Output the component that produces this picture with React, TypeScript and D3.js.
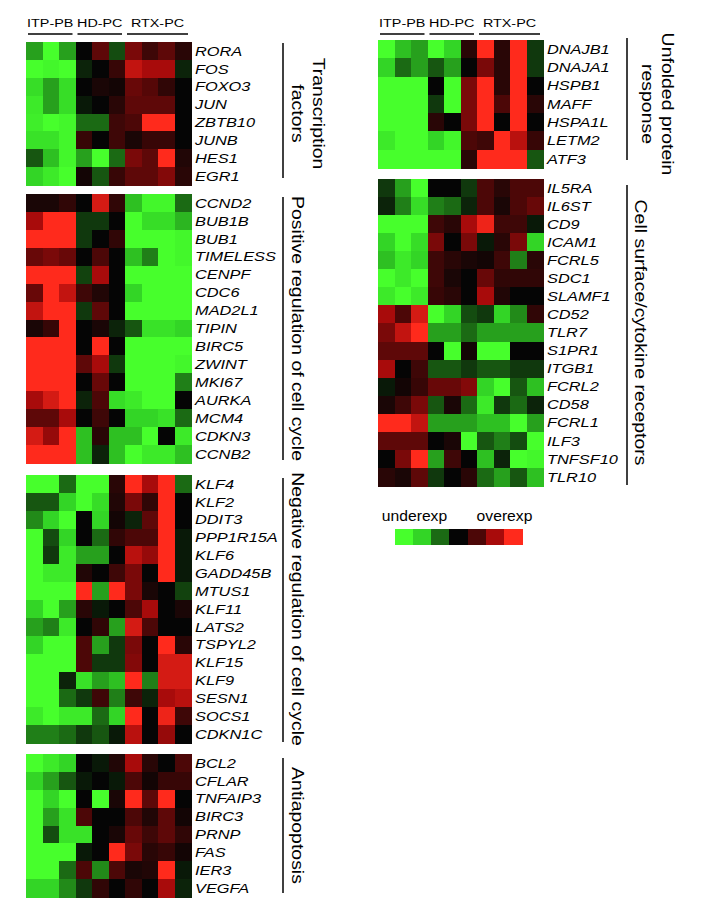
import * as d3 from 'd3';

// sample groups (columns)
const groups = ['ITP-PB', 'HD-PC', 'RTX-PC'];
const groupSizes = [3, 3, 4];
const samples = groups.flatMap((g, gi) => d3.range(groupSizes[gi]).map(i => `${g} ${i + 1}`));

// legend
const legendLevels = [-3, -2, -1, 0, 1, 2, 3];
const legendLabels = ['underexp', 'overexp'];

// --- Transcription factors
const tfGenes = ['RORA', 'FOS', 'FOXO3', 'JUN', 'ZBTB10', 'JUNB', 'HES1', 'EGR1'];
const tfValues = [
  [-1.5, -3, -1.5, 0, 1.2, -0.7, 1.5, 0.8, 1.2, 0.5],
  [-3, -2.8, -3, -0.3, 0, 0.7, 2.3, 2, 2, -0.3],
  [-2.2, -1.5, -2.2, 0, 0.3, 0.2, 1.3, 1.1, 0.6, 0],
  [-2.5, -1.5, -2.2, -0.2, 0, 0.5, 1.2, 1.2, 1.2, 0],
  [-2.6, -3, -2.8, -1, -1, 0.8, 1, 3, 3, 0],
  [-2.3, -2.3, -2.8, 0.7, 0, 0.8, 0.3, 0.7, 0.7, 0],
  [-0.8, -1.8, -2.8, -1.5, -3, -1, 1.5, 1.2, 3, 0.4],
  [-2, -2.5, -3, 0.2, -0.8, 0.7, 1.2, 1.2, 1.6, 0.5],
];

// --- Positive regulation of cell cycle
const posGenes = ['CCND2', 'BUB1B', 'BUB1', 'TIMELESS', 'CENPF', 'CDC6', 'MAD2L1', 'TIPIN',
  'BIRC5', 'ZWINT', 'MKI67', 'AURKA', 'MCM4', 'CDKN3', 'CCNB2'];
const posValues = [
  [0.3, 0.3, 0.6, 0, 2.5, 0.6, -1.8, -2.8, -2.8, -1],
  [2, 3, 3, -0.5, -0.5, 0, -3, -2.2, -2.2, -1.7],
  [3, 3, 3, -0.5, 0, 0.6, -3, -3, -3, -2.8],
  [1.3, 1.5, 1.3, 0, 1, 0, -1.8, -1.2, -3, -2.8],
  [3, 3, 3, -0.6, 2, 0, -3, -3, -3, -3],
  [1.3, 3, 2.3, 0.8, 0.4, 0, -2, -3, -3, -3],
  [2.3, 3, 3, -0.5, 1.2, 0, -3, -3, -3, -3],
  [0.3, 0.7, 3, 0, 0.3, -0.3, -0.8, -2.3, -2.3, -2],
  [3, 3, 3, 0, 3, 0, -3, -3, -3, -3],
  [3, 3, 3, 1.2, 2, -0.5, -3, -3, -3, -2.8],
  [3, 3, 3, 0, 1.3, 0, -3, -3, -3, -1.2],
  [2, 2.5, 3, -0.3, 1, -2.2, -2.5, -3, -3, 0],
  [1.2, 1.2, 2, 0, 0.8, 0, -2, -2, -2.3, -1],
  [2.5, 1.8, 3, -1.8, 0.5, -1.8, -1.8, -3, 0, -2.5],
  [3, 3, 3, -1.8, -0.3, -1.8, -3, -2.5, -2.5, -1.8],
];

// --- Negative regulation of cell cycle
const negGenes = ['KLF4', 'KLF2', 'DDIT3', 'PPP1R15A', 'KLF6', 'GADD45B', 'MTUS1', 'KLF11',
  'LATS2', 'TSPYL2', 'KLF15', 'KLF9', 'SESN1', 'SOCS1', 'CDKN1C'];
const negValues = [
  [-3, -3, -1, -3, -3, 0.5, 3, 2, 3, -1],
  [-0.8, -0.8, -2, -3, -2.2, 0.4, 1.5, 0.6, 3, 0],
  [-1.3, -2, -3, 0, -2, 0.2, -0.3, 1.2, 3, 0],
  [-3, -0.7, -2, 0, -1, 0.6, 1, 1, 3, -0.2],
  [-3, -0.5, -2.5, -1.5, -1.5, 0, 2.2, 1.8, 3, -0.2],
  [-3, -2.5, -2.5, 0.4, 0, 0.8, 1.5, 0, 3, -0.2],
  [-3, -3, -3, 3, -1.5, 3, 1.5, 0.3, 0, -0.6],
  [-2, -3, -1.5, 0.5, -0.2, 0, 1, 2, 0, 0.3],
  [-1.5, -1.2, -2.5, 0, 0.6, -1.5, 2.5, 1, 0, 0],
  [-2, -3, -3, 1, -1.5, -0.5, 1.5, 0, 3, 0.5],
  [-3, -3, -3, 1, -0.5, -0.5, 1.6, 0, 2.5, 2.5],
  [-3, -3, -0.3, -2.3, -1.5, -1.8, 3, -1.2, 2.5, 2.5],
  [-3, -3, -1, -0.5, 0.8, -1.2, 0.8, -0.3, 2, 2.2],
  [-2.5, -3, -2.5, -2.5, -1, -2, 3, 0, 2.8, 0.8],
  [-1.2, -1.2, -1, -0.5, -0.8, -0.2, 2.2, 0, 1.8, 0],
];

// --- Antiapoptosis
const antiGenes = ['BCL2', 'CFLAR', 'TNFAIP3', 'BIRC3', 'PRNP', 'FAS', 'IER3', 'VEGFA'];
const antiValues = [
  [-3, -2.5, -2, 0, -0.2, 0.4, 2, 0.5, 0, 1],
  [-2, -1.5, -0.8, -0.2, 0, -0.2, 1, 0.2, 0.7, 0.7],
  [-3, -2, -3, 0, -3, 0.3, 3, 1.2, 3, 0],
  [-3, -1.5, -2.3, 1, 0, 0, 1, 0.4, 1.2, 0.2],
  [-3, -0.7, -2.3, -2.3, 0, 0.3, 1.3, 0.8, 1.2, 0.6],
  [-3, -3, -3, -0.2, 0, 3, 1.5, 0.5, 0.7, 0.2],
  [-3, -3, -1, 1, -1.3, 1, 0.3, 0.4, 3, -0.2],
  [-2, -2, -1.3, -0.5, 0.6, 0, 0.6, 0, 2, -0.3],
];

// --- Unfolded protein response
const uprGenes = ['DNAJB1', 'DNAJA1', 'HSPB1', 'MAFF', 'HSPA1L', 'LETM2', 'ATF3'];
const uprValues = [
  [-3, -1.8, -1.5, -3, -2, 0.5, 3, 0.5, 3, -0.5],
  [-2, -1, -1.5, -0.8, -1.5, 0, 1.5, 0.5, 3, -0.5],
  [-3, -3, -3, 0, -3, 1.5, 3, 0.5, 3, 0],
  [-3, -3, -3, -0.5, -3, 1.5, 3, 1, 3, 0.5],
  [-3, -3, -3, 0.5, 0, 1.5, 3, 0, 3, 0],
  [-2.5, -3, -3, -2, -2.8, 1, 0.8, 3, 2.2, 0.7],
  [-3, -3, -3, -3, -3, 0.5, 3, 3, 3, -0.8],
];

// --- Cell surface/cytokine receptors
const csGenes = ['IL5RA', 'IL6ST', 'CD9', 'ICAM1', 'FCRL5', 'SDC1', 'SLAMF1', 'CD52', 'TLR7',
  'S1PR1', 'ITGB1', 'FCRL2', 'CD58', 'FCRL1', 'ILF3', 'TNFSF10', 'TLR10'];
const csValues = [
  [-0.5, -1.5, -3, 0, 0, -0.5, 1, 0.5, 1, 1],
  [-0.3, -1.2, -2.2, -1.2, -1, -0.3, 1, 0.3, 1, 1.3],
  [-3, -3, -3, 0.8, 0.5, 2, 2.8, 0.8, 0.8, -0.2],
  [-2, -3, -2.2, 1.5, 0, 1.5, -0.2, 0.5, 1.5, -2],
  [-1.8, -2.5, -2, 0.8, 0.5, 0.3, 0.2, 0.8, -1.2, 0.5],
  [-3, -2.5, -3, 0.8, 0.3, 0, 1.3, 0.6, 0.6, 0.6],
  [-2.5, -3, -2.5, 0.7, 0.5, 0, 2, 0.4, 0, 0],
  [2, 1, 2.5, -3, -2, -0.7, -0.5, -2, -1.3, 0.6],
  [1.5, 2.3, 3, -1.5, -1.5, -1, -1.5, -1.5, -1.5, -1.5],
  [1.2, 1.2, 1.2, 0, -3, 0.2, -3, -3, 0, 0],
  [2, 0, 0.8, -0.8, -0.8, -0.5, -0.8, -0.8, -0.5, -0.5],
  [-0.2, 0.2, 0.7, 1.3, 1.3, 1.6, -2, -3, -0.8, -1.8],
  [0.3, 0.8, 1.5, -0.8, 0.3, -1, -2.5, -0.5, -1, -0.3],
  [3, 3, 2.3, -1.5, -1.5, -1.5, -1.8, -1.8, -3, -1.5],
  [1.2, 1.2, 1.2, 0, 0.3, -3, -0.8, -1.2, -0.7, -3],
  [0, 1.5, 3, -1.5, 0.8, 0, -1.8, -0.3, -3, -2.8],
  [0.5, 0.3, 1.2, -0.5, 0, 0.5, -1, -1.5, -0.8, -1.8],
];

// layout of the six blocks
const panels = [
  { genes: tfGenes, values: tfValues, title: ['Transcription', 'factors'], x: 26, top: 42, bottom: 185, lineX: 283, titleX: [313, 292], lineY: [43, 178] },
  { genes: posGenes, values: posValues, title: ['Positive regulation of cell cycle'], x: 26, top: 194, bottom: 463, lineX: 283, titleX: [292], lineY: [197, 460] },
  { genes: negGenes, values: negValues, title: ['Negative regulation of cell cycle'], x: 26, top: 475, bottom: 743, lineX: 283, titleX: [292], lineY: [478, 742] },
  { genes: antiGenes, values: antiValues, title: ['Antiapoptosis'], x: 26, top: 754, bottom: 897, lineX: 283, titleX: [292], lineY: [758, 893] },
  { genes: uprGenes, values: uprValues, title: ['Unfolded protein', 'response'], x: 378, top: 40, bottom: 168, lineX: 627, titleX: [662, 642], lineY: [38, 160] },
  { genes: csGenes, values: csValues, title: ['Cell surface/cytokine receptors'], x: 378, top: 179, bottom: 486, lineX: 627, titleX: [635], lineY: [185, 485] },
];

const mapW = 165;
const font = '"Liberation Sans", Arial, Helvetica, sans-serif';

const color = d3.scaleLinear<string>()
  .domain(legendLevels)
  .range(['#47ff2c', '#33d526', '#1b6a14', '#050505', '#4c0707', '#a80b0b', '#ff2a1c'])
  .clamp(true);

function Header({ x0 }: { x0: number }) {
  const xs = d3.scaleBand<string>().domain(samples).range([x0, x0 + mapW]);
  let start = 0;
  return (
    <g>
      {groups.map((g, gi) => {
        const first = samples[start];
        const last = samples[start + groupSizes[gi] - 1];
        start += groupSizes[gi];
        const a = (xs(first) as number) + 2;
        const b = (xs(last) as number) + xs.bandwidth() - 3;
        return (
          <g key={g}>
            <text transform={`translate(${(a + b) / 2},27) scale(1.25,1)`} textAnchor="middle"
              fontSize={11.5} fontFamily={font}>{g}</text>
            <line x1={a} x2={b} y1={34} y2={34} stroke="#000" strokeWidth={1.5} />
          </g>
        );
      })}
    </g>
  );
}

function Panel({ p }: { p: typeof panels[number] }) {
  const xs = d3.scaleBand<string>().domain(samples).range([p.x, p.x + mapW]);
  const ys = d3.scaleBand<string>().domain(p.genes).range([p.top, p.bottom]);
  const cy = (p.top + p.bottom) / 2;
  return (
    <g>
      <g shapeRendering="crispEdges">
        {p.genes.map((gene, ri) =>
          samples.map((s, ci) => (
            <rect key={gene + s} x={xs(s)} y={ys(gene)} width={xs.bandwidth() + 0.6}
              height={ys.bandwidth() + 0.6} fill={color(p.values[ri][ci])} />
          ))
        )}
      </g>
      {p.genes.map(gene => (
        <text key={gene}
          transform={`translate(${p.x + mapW + 4},${(ys(gene) as number) + ys.bandwidth() / 2 + 4.7}) scale(1.26,1)`}
          fontSize={13} fontStyle="italic" fontFamily={font}>{gene}</text>
      ))}
      <line x1={p.lineX} x2={p.lineX} y1={p.lineY[0]} y2={p.lineY[1]} stroke="#000" strokeWidth={1.5} />
      {p.title.map((t, i) => (
        <text key={t} transform={`translate(${p.titleX[i]},${cy}) rotate(90) scale(1.18,1)`}
          textAnchor="middle" fontSize={16.5} fontFamily={font}>{t}</text>
      ))}
    </g>
  );
}

function Legend() {
  const xs = d3.scaleBand<number>().domain(legendLevels).range([395, 522]);
  return (
    <g>
      <text transform="translate(414.5,521) scale(1.12,1)" textAnchor="middle" fontSize={14} fontFamily={font}>{legendLabels[0]}</text>
      <text transform="translate(504.5,521) scale(1.12,1)" textAnchor="middle" fontSize={14} fontFamily={font}>{legendLabels[1]}</text>
      <g shapeRendering="crispEdges">
        {legendLevels.map(v => (
          <rect key={v} x={xs(v)} y={529} width={xs.bandwidth() + 0.5} height={16} fill={color(v)} />
        ))}
      </g>
    </g>
  );
}

export default function App() {
  return (
    <svg width={701} height={914} style={{ position: 'absolute', left: 0, top: 0, background: '#fff' }}>
      <Header x0={26} />
      <Header x0={378} />
      {panels.map((p, i) => <Panel key={i} p={p} />)}
      <Legend />
    </svg>
  );
}
